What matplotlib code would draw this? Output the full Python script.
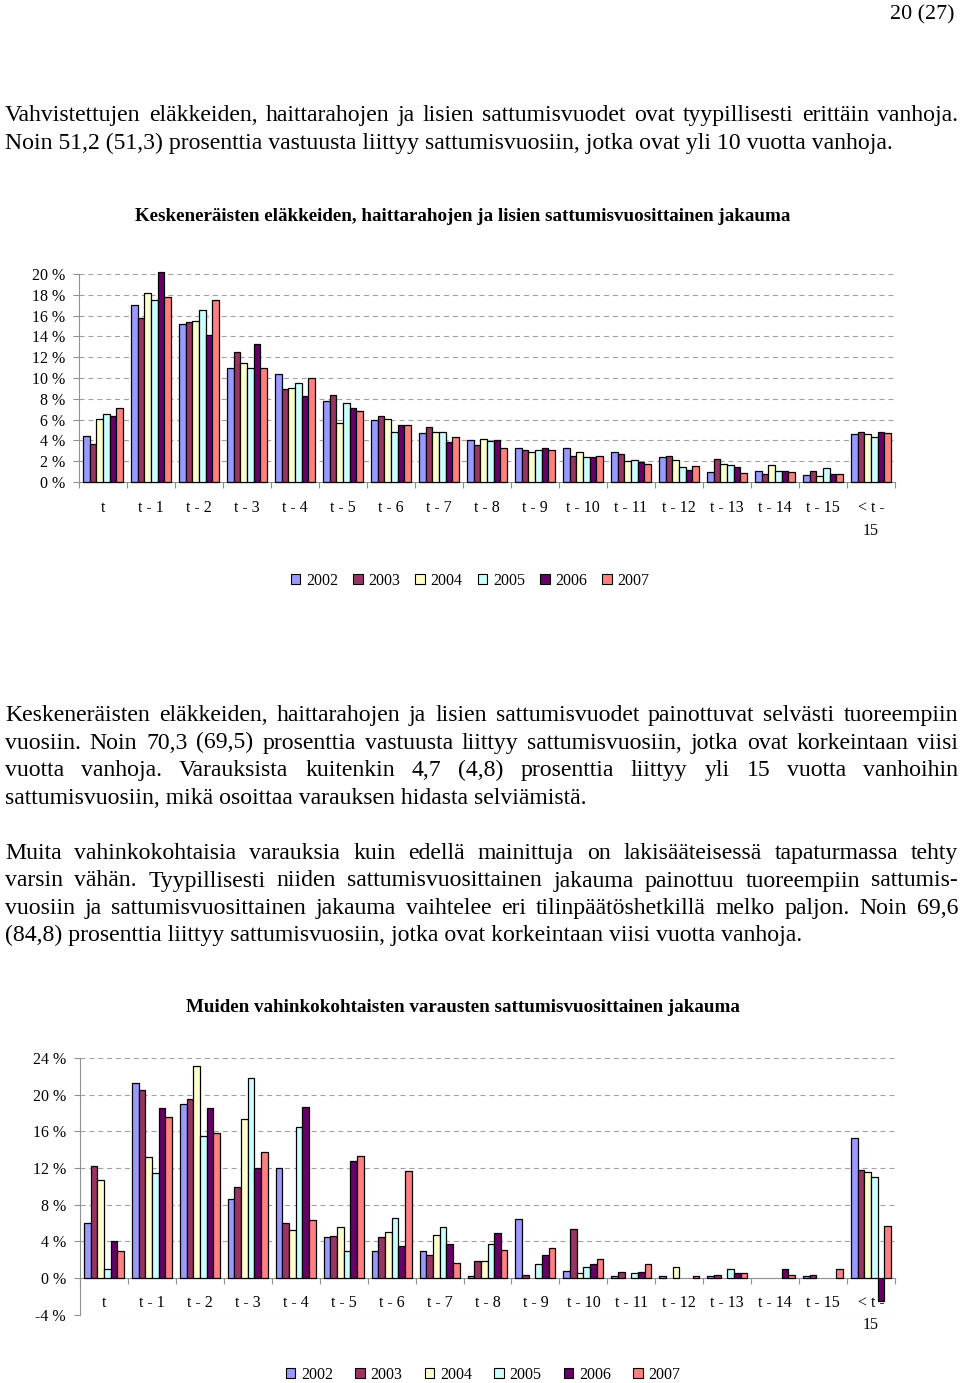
import matplotlib
matplotlib.use('Agg')
import matplotlib.pyplot as plt
from matplotlib.patches import Patch
import numpy as np

plt.rcParams['font.family'] = ['Liberation Serif', 'DejaVu Serif']

W, H = 960, 1383
BODY = 17.1
SERIF = 'Liberation Serif'

categories = ['t', 't - 1', 't - 2', 't - 3', 't - 4', 't - 5', 't - 6', 't - 7', 't - 8',
              't - 9', 't - 10', 't - 11', 't - 12', 't - 13', 't - 14', 't - 15', '< t -\n15']
years = ['2002', '2003', '2004', '2005', '2006', '2007']
colors = ['#9999FF', '#993366', '#FFFFCC', '#CCFFFF', '#660066', '#FF8080']

# chart 1: pending pensions etc. (%)
pend_2002 = [4.4, 17.0, 15.2, 11.0, 10.4, 7.8, 6.0, 4.7, 4.0, 3.3, 3.3, 2.9, 2.4, 1.0, 1.1, 0.7, 4.6]
pend_2003 = [3.7, 15.8, 15.4, 12.5, 8.9, 8.4, 6.3, 5.3, 3.6, 3.1, 2.5, 2.7, 2.5, 2.2, 0.8, 1.1, 4.8]
pend_2004 = [6.1, 18.2, 15.5, 11.4, 9.0, 5.7, 6.1, 4.8, 4.1, 2.9, 2.9, 2.0, 2.1, 1.7, 1.6, 0.6, 4.6]
pend_2005 = [6.5, 17.5, 16.5, 11.0, 9.5, 7.6, 4.8, 4.8, 3.9, 3.1, 2.4, 2.1, 1.4, 1.6, 1.1, 1.3, 4.3]
pend_2006 = [6.3, 20.2, 14.1, 13.3, 8.3, 7.1, 5.5, 3.8, 4.0, 3.3, 2.4, 1.9, 1.2, 1.4, 1.1, 0.8, 4.8]
pend_2007 = [7.1, 17.8, 17.5, 11.0, 10.0, 6.8, 5.5, 4.3, 3.3, 3.1, 2.5, 1.7, 1.5, 0.9, 1.0, 0.8, 4.7]

# chart 2: other claim-specific reserves (%)
other_2002 = [6.0, 21.3, 19.0, 8.6, 12.0, 4.5, 2.9, 2.9, 0.2, 6.4, 0.8, 0.2, 0.2, 0.2, 0.0, 0.2, 15.3]
other_2003 = [12.2, 20.5, 19.5, 9.9, 6.0, 4.6, 4.5, 2.5, 1.9, 0.3, 5.3, 0.7, 0.0, 0.3, 0.0, 0.3, 11.8]
other_2004 = [10.7, 13.2, 23.1, 17.3, 5.2, 5.6, 5.0, 4.7, 1.9, 0.0, 0.6, 0.0, 1.2, 0.0, 0.0, 0.0, 11.6]
other_2005 = [1.0, 11.5, 15.5, 21.8, 16.5, 2.9, 6.6, 5.6, 3.7, 1.5, 1.2, 0.5, 0.0, 1.0, 0.0, 0.0, 11.0]
other_2006 = [4.0, 18.6, 18.6, 12.0, 18.7, 12.8, 3.5, 3.7, 4.9, 2.5, 1.5, 0.7, 0.0, 0.5, 1.0, 0.0, -2.5]
other_2007 = [3.0, 17.6, 15.8, 13.7, 6.3, 13.3, 11.7, 1.6, 3.1, 3.3, 2.1, 1.5, 0.2, 0.5, 0.3, 1.0, 5.7]

fig = plt.figure(figsize=(W / 100, H / 100), dpi=100)


def fx(px):
    return px / W


def fy(py):
    return 1 - py / H


def line(x, y, s, **kw):
    fig.text(fx(x), fy(y), s, va='baseline', fontsize=BODY, family=SERIF, **kw)


def justify(y, s, x0=5, x1=958):
    words = s.split()
    texts = [fig.text(0, fy(y), w, va='baseline', fontsize=BODY, family=SERIF) for w in words]
    r = fig.canvas.get_renderer()
    widths = [t.get_window_extent(r).width for t in texts]
    gap = (x1 - x0 - sum(widths)) / (len(words) - 1)
    x = x0
    for t, w in zip(texts, widths):
        t.set_x(fx(x))
        x += w + gap


def draw_chart(rect, series, ylo, yhi, ystep, label_pad):
    ax = fig.add_axes(rect)
    x = np.arange(len(categories))
    w = 0.139
    for i, vals in enumerate(series):
        vals = np.array(vals)
        keep = vals != 0
        ax.bar(x[keep] + (i - 2.5) * w, vals[keep], w, color=colors[i], edgecolor='black',
               linewidth=0.9, clip_on=False, zorder=3)
    ax.set_xlim(-0.5, len(categories) - 0.5)
    ax.set_ylim(ylo, yhi)
    yt = np.arange(ylo, yhi + 0.1, ystep)
    ax.set_yticks(yt)
    ax.set_yticklabels(['%d %%' % v for v in yt], fontsize=11.5, family=SERIF)
    for v in yt:
        if v != 0:
            ax.axhline(v, color='#a0a0a0', lw=0.8, ls=(0, (4.5, 3.5)), zorder=1)
    for s in ['top', 'right']:
        ax.spines[s].set_visible(False)
    ax.spines['bottom'].set_position(('data', 0))
    for s in ['left', 'bottom']:
        ax.spines[s].set_color('#909090')
        ax.spines[s].set_linewidth(0.8)
    ax.set_xticks(x)
    ax.set_xticklabels(categories, fontsize=11.5, family=SERIF)
    ax.set_xticks(np.arange(-0.5, len(categories), 1), minor=True)
    ax.tick_params(axis='x', which='major', length=0, pad=label_pad)
    ax.tick_params(axis='x', which='minor', length=4, color='#909090', width=0.8)
    ax.tick_params(axis='y', length=4, color='#909090', width=0.8, pad=6)
    ax.get_xticklabels()[-1].set_linespacing(1.55)
    ax.set_facecolor('none')
    return ax


def legend(cx, cy, spacing):
    handles = [Patch(facecolor=c, edgecolor='black', linewidth=0.8) for c in colors]
    fig.legend(handles, years, loc='center', bbox_to_anchor=(fx(cx), fy(cy)), ncol=6,
               frameon=False, handlelength=0.6, handleheight=0.6,
               handletextpad=0.35, columnspacing=spacing,
               prop={'family': SERIF, 'size': 11.5})


# page number
fig.text(fx(954), fy(19), '20 (27)', ha='right', va='baseline', fontsize=15.8, family=SERIF)

# paragraph 1
justify(121, 'Vahvistettujen eläkkeiden, haittarahojen ja lisien sattumisvuodet ovat tyypillisesti erittäin vanhoja.')
line(5, 148.5, 'Noin 51,2 (51,3) prosenttia vastuusta liittyy sattumisvuosiin, jotka ovat yli 10 vuotta vanhoja.')

# chart 1
fig.text(fx(463), fy(221), 'Keskeneräisten eläkkeiden, haittarahojen ja lisien sattumisvuosittainen jakauma',
         ha='center', va='baseline', fontsize=13.7, fontweight='bold', family=SERIF)
draw_chart([fx(79), fy(482), (895 - 79) / W, 208 / H],
           [pend_2002, pend_2003, pend_2004, pend_2005, pend_2006, pend_2007], 0, 20, 2, 13)
legend(470, 581, 0.95)

# paragraph 2
justify(721, 'Keskeneräisten eläkkeiden, haittarahojen ja lisien sattumisvuodet painottuvat selvästi tuoreempiin')
justify(748.5, 'vuosiin. Noin 70,3 (69,5) prosenttia vastuusta liittyy sattumisvuosiin, jotka ovat korkeintaan viisi')
justify(776, 'vuotta vanhoja. Varauksista kuitenkin 4,7 (4,8) prosenttia liittyy yli 15 vuotta vanhoihin')
line(5, 803.5, 'sattumisvuosiin, mikä osoittaa varauksen hidasta selviämistä.')

# paragraph 3
justify(859, 'Muita vahinkokohtaisia varauksia kuin edellä mainittuja on lakisääteisessä tapaturmassa tehty')
justify(886.5, 'varsin vähän. Tyypillisesti niiden sattumisvuosittainen jakauma painottuu tuoreempiin sattumis-')
justify(914, 'vuosiin ja sattumisvuosittainen jakauma vaihtelee eri tilinpäätöshetkillä melko paljon. Noin 69,6')
line(5, 941.5, '(84,8) prosenttia liittyy sattumisvuosiin, jotka ovat korkeintaan viisi vuotta vanhoja.')

# chart 2
fig.text(fx(463), fy(1012), 'Muiden vahinkokohtaisten varausten sattumisvuosittainen jakauma',
         ha='center', va='baseline', fontsize=13.7, fontweight='bold', family=SERIF)
draw_chart([fx(80), fy(1314.7), (895 - 80) / W, (1314.7 - 1058) / H],
           [other_2002, other_2003, other_2004, other_2005, other_2006, other_2007], -4, 24, 4, 12)
legend(483, 1375, 1.4)

fig.savefig('out.png', dpi=100)
